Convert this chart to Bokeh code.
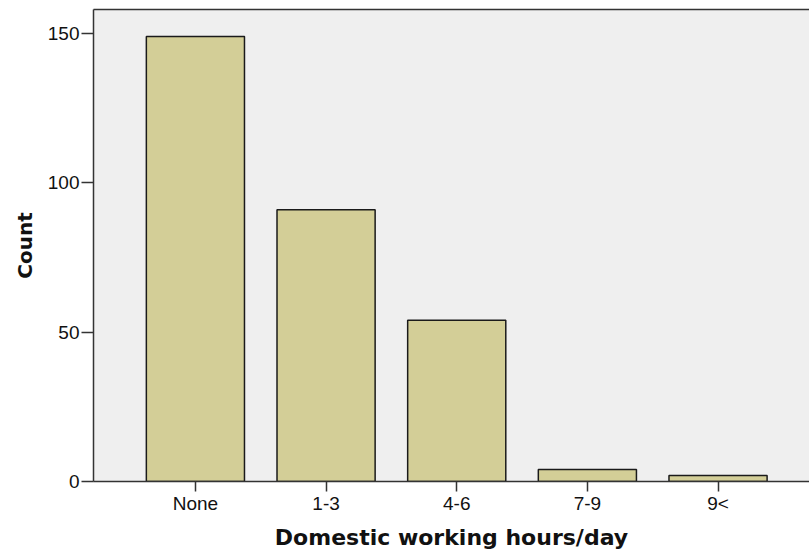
from bokeh.plotting import figure
from bokeh.models import FixedTicker, Range1d, LinearAxis
from bokeh.embed import file_html
from bokeh.resources import INLINE

categories = ["None", "1-3", "4-6", "7-9", "9<"]
counts = [149, 91, 54, 4, 2]
y_ticks = [0, 50, 100, 150]

xs = list(range(len(categories)))

p = figure(width=809, height=555, output_backend="svg", toolbar_location=None,
           x_range=Range1d(-0.78, 4.70), y_range=Range1d(0, 158),
           min_border_left=93, min_border_top=9, min_border_right=0,
           min_border_bottom=74)

p.background_fill_color = "#efefef"
p.border_fill_color = "white"
p.outline_line_color = None
p.xgrid.visible = False
p.ygrid.visible = False

p.vbar(x=xs, top=counts, bottom=0, width=0.751,
       fill_color="#d3ce97", line_color="#1a1a1a", line_width=1.5)

for ax in (p.xaxis[0], p.yaxis[0]):
    ax.axis_line_color = "#333333"
    ax.axis_line_width = 1.5
    ax.major_tick_line_color = "#333333"
    ax.major_tick_line_width = 1.5
    ax.minor_tick_line_color = None
    ax.major_tick_in = 0
    ax.major_label_text_font = "Liberation Sans"
    ax.major_label_text_font_size = "19px"
    ax.major_label_text_color = "#111111"
    ax.axis_label_text_font = "DejaVu Sans"
    ax.axis_label_text_font_style = "bold"
    ax.axis_label_text_color = "#111111"

p.xaxis.ticker = FixedTicker(ticks=xs)
p.xaxis.major_label_overrides = {i: c for i, c in zip(xs, categories)}
p.xaxis.major_tick_out = 10
p.xaxis.major_label_standoff = 1
p.xaxis.axis_label = "Domestic working hours/day"
p.xaxis.axis_label_text_font_size = "22px"
p.xaxis.axis_label_standoff = 8

p.yaxis.ticker = FixedTicker(ticks=y_ticks)
p.yaxis.major_tick_out = 12
p.yaxis.major_label_standoff = 2
p.yaxis.axis_label = "Count"
p.yaxis.axis_label_text_font_size = "20px"
p.yaxis.axis_label_standoff = 8

top_axis = LinearAxis(ticker=FixedTicker(ticks=[]), axis_line_color="#333333",
                      axis_line_width=1.5, major_tick_line_color=None,
                      minor_tick_line_color=None, major_label_text_font_size="0px")
p.add_layout(top_axis, "above")

open("out.html", "w").write(file_html(p, INLINE))
